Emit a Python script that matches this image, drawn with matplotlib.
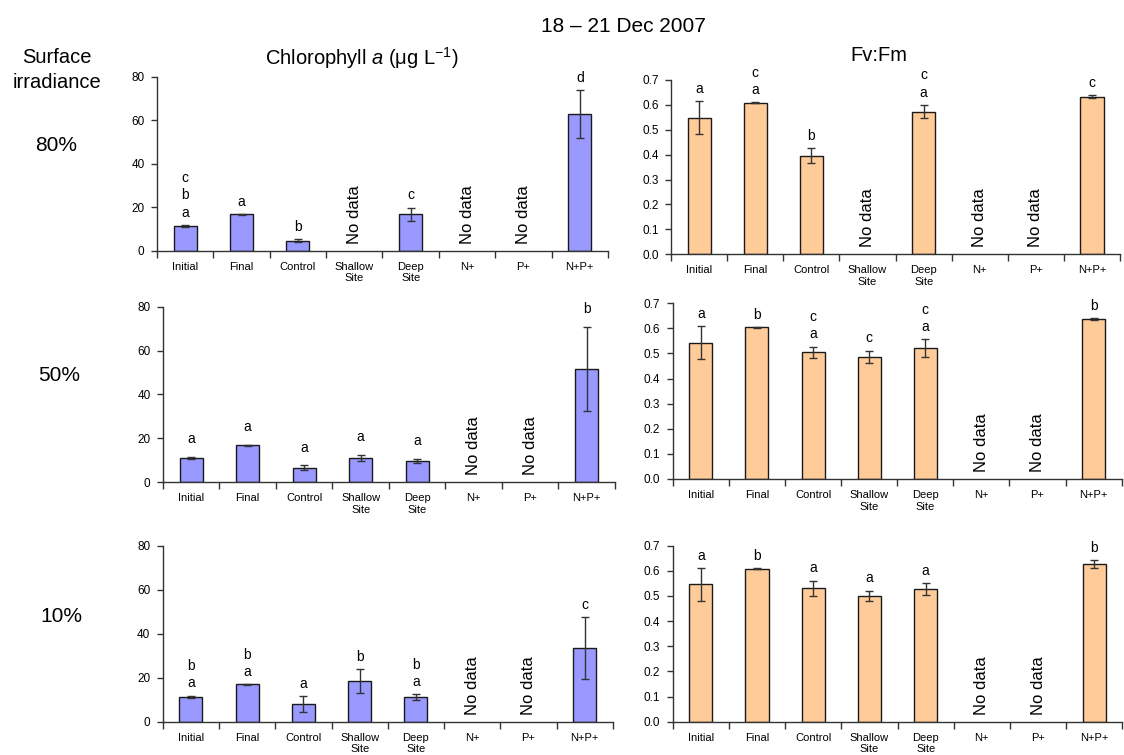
import numpy as np
import matplotlib
matplotlib.use("Agg")
import matplotlib.pyplot as plt

plt.rcParams['font.family'] = ['Liberation Sans', 'DejaVu Sans']
plt.rcParams['mathtext.fontset'] = 'custom'
plt.rcParams['mathtext.rm'] = 'Liberation Sans'
plt.rcParams['mathtext.it'] = 'Liberation Sans:italic'

nan = np.nan

categories = ["Initial", "Final", "Control", "Shallow\nSite", "Deep\nSite", "N+", "P+", "N+P+"]
irradiance_labels = ["80%", "50%", "10%"]

# Chlorophyll a (ug/L), mean and error, per surface irradiance level
chl_80 = [11.3, 16.7, 4.6, nan, 16.7, nan, nan, 62.9]
chl_80_err = [0.5, 0.2, 0.8, nan, 3.0, nan, nan, 10.9]
chl_80_letters = ["abc", "a", "b", "", "c", "", "", "d"]

chl_50 = [11.2, 16.9, 6.7, 10.9, 9.8, nan, nan, 51.6]
chl_50_err = [0.5, 0.2, 1.0, 1.4, 0.8, nan, nan, 19.2]
chl_50_letters = ["a", "a", "a", "a", "a", "", "", "b"]

chl_10 = [11.4, 17.0, 8.0, 18.5, 11.1, nan, nan, 33.6]
chl_10_err = [0.5, 0.1, 3.6, 5.3, 1.4, nan, nan, 14.0]
chl_10_letters = ["ab", "ab", "a", "b", "ab", "", "", "c"]

# Photosynthetic efficiency Fv:Fm
fv_80 = [0.549, 0.609, 0.395, nan, 0.573, nan, nan, 0.633]
fv_80_err = [0.065, 0.002, 0.030, nan, 0.027, nan, nan, 0.005]
fv_80_letters = ["a", "ac", "b", "", "ac", "", "", "c"]

fv_50 = [0.543, 0.604, 0.505, 0.487, 0.521, nan, nan, 0.637]
fv_50_err = [0.065, 0.002, 0.022, 0.024, 0.035, nan, nan, 0.004]
fv_50_letters = ["a", "b", "ac", "c", "ac", "", "", "b"]

fv_10 = [0.546, 0.609, 0.531, 0.501, 0.527, nan, nan, 0.626]
fv_10_err = [0.066, 0.002, 0.030, 0.020, 0.023, nan, nan, 0.016]
fv_10_letters = ["a", "b", "a", "a", "a", "", "", "b"]

chl_ticks = [0, 20, 40, 60, 80]
fv_ticks = [0.0, 0.1, 0.2, 0.3, 0.4, 0.5, 0.6, 0.7]

CHL_COLOR = "#9999FF"
FV_COLOR = "#FFCC99"
AXIS_COLOR = "#333333"

fig = plt.figure(figsize=(11.24, 7.55), dpi=100)


def draw_panel(rect, vals, errs, letters, color, yticks, fmt, letter_gap):
    ax = fig.add_axes(rect)
    x = np.arange(len(categories))
    v = np.array(vals, float)
    e = np.array(errs, float)
    has = ~np.isnan(v)
    ax.bar(x[has], v[has], width=0.41, color=color, edgecolor="#1a1a1a",
           linewidth=1.0, zorder=2)
    ax.errorbar(x[has], v[has], yerr=e[has], fmt="none", ecolor=AXIS_COLOR,
                elinewidth=1, capsize=3, capthick=1, zorder=3)
    for i in x:
        if not has[i]:
            ax.annotate("No data", (i, 0), xytext=(0, 5), textcoords="offset points",
                        rotation=90, ha="center", va="bottom", fontsize=12)
            continue
        top = v[i] + (0 if np.isnan(e[i]) else e[i])
        for k, ch in enumerate(letters[i]):
            ax.annotate(ch, (i, top), xytext=(0, letter_gap + 12.4 * k),
                        textcoords="offset points", ha="center", va="baseline",
                        fontsize=10, annotation_clip=False)
    ax.set_xlim(-0.5, len(categories) - 0.5)
    ax.set_ylim(yticks[0], yticks[-1])
    ax.set_yticks(yticks)
    ax.set_yticklabels([fmt.format(t) for t in yticks])
    ax.set_xticks(np.arange(-0.5, len(categories), 1.0))
    ax.set_xticklabels([])
    ax.set_xticks(x, categories, minor=True)
    ax.tick_params(axis="x", which="major", direction="out", length=5,
                   width=1, color=AXIS_COLOR)
    ax.tick_params(axis="x", which="minor", length=0, pad=8, labelsize=8)
    ax.tick_params(axis="y", direction="out", length=4, width=1,
                   color=AXIS_COLOR, pad=5, labelsize=8.5)
    for s in ("top", "right"):
        ax.spines[s].set_visible(False)
    for s in ("left", "bottom"):
        ax.spines[s].set_color(AXIS_COLOR)
        ax.spines[s].set_linewidth(1)
    ax.set_facecolor("none")
    return ax


chl_rects = [[0.1397, 0.6680, 0.4012, 0.2305],
             [0.1450, 0.3612, 0.4021, 0.2326],
             [0.1448, 0.0441, 0.4004, 0.2331]]
fv_rects = [[0.5970, 0.6632, 0.3995, 0.2309],
            [0.5985, 0.3656, 0.3995, 0.2327],
            [0.5985, 0.0441, 0.4000, 0.2331]]

chl_sets = [(chl_80, chl_80_err, chl_80_letters, 6.0),
            (chl_50, chl_50_err, chl_50_letters, 10.0),
            (chl_10, chl_10_err, chl_10_letters, 6.0)]
fv_sets = [(fv_80, fv_80_err, fv_80_letters, 6.0),
           (fv_50, fv_50_err, fv_50_letters, 6.0),
           (fv_10, fv_10_err, fv_10_letters, 6.0)]

for rect, (v, e, l, g) in zip(chl_rects, chl_sets):
    draw_panel(rect, v, e, l, CHL_COLOR, chl_ticks, "{:.0f}", g)
for rect, (v, e, l, g) in zip(fv_rects, fv_sets):
    draw_panel(rect, v, e, l, FV_COLOR, fv_ticks, "{:.1f}", g)

fig.text(0.5543, 0.958, "18 \u2013 21 Dec 2007", ha="center", va="baseline", fontsize=15)
fig.text(0.3221, 0.9148, "Chlorophyll $\\mathit{a}$ (\u03bcg L$^{\\mathrm{-1}}$)",
         ha="center", va="baseline", fontsize=14.5)
fig.text(0.7820, 0.9196, "Fv:Fm", ha="center", va="baseline", fontsize=14.5)
fig.text(0.0505, 0.9162, "Surface", ha="center", va="baseline", fontsize=14.5)
fig.text(0.0505, 0.8830, "irradiance", ha="center", va="baseline", fontsize=14.5)
for lab, yb, xc in zip(irradiance_labels, [0.8004, 0.4954, 0.1766], [0.0500, 0.0525, 0.0543]):
    fig.text(xc, yb, lab, ha="center", va="baseline", fontsize=15)

fig.savefig("out.png", dpi=100, facecolor="white")
